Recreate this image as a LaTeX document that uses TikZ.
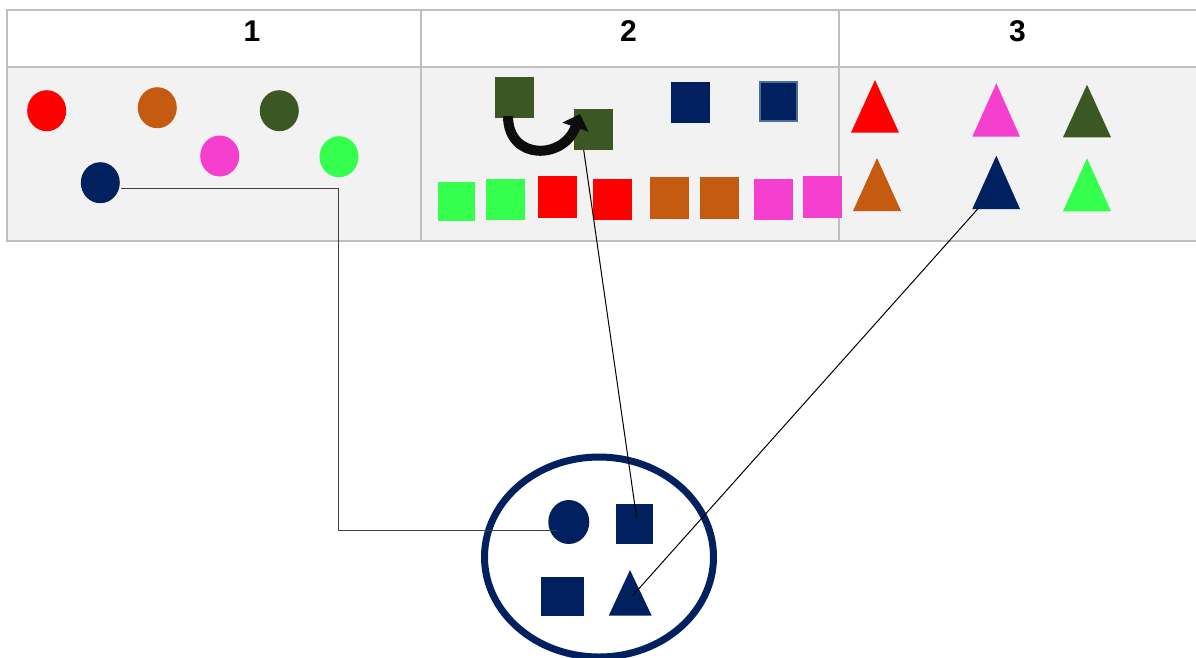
\documentclass[tikz,border=0pt]{standalone}
\usepackage{fontspec}
\setmainfont{Liberation Sans}
\usetikzlibrary{shapes.geometric,arrows.meta}
\definecolor{cred}{HTML}{FF0000}
\definecolor{corange}{HTML}{C55A11}
\definecolor{cdgreen}{HTML}{3B5724}
\definecolor{cpink}{HTML}{F43FCF}
\definecolor{cgreen}{HTML}{33FF4C}
\definecolor{cnavy}{HTML}{002060}
\definecolor{cbg}{HTML}{F2F2F2}
\definecolor{cgrid}{HTML}{BFBFBF}
\definecolor{cframe}{HTML}{4A6E98}
\definecolor{cconn}{HTML}{404040}
\begin{document}
\begin{tikzpicture}[x=1pt,y=-1pt,
  dot/.style={ellipse,inner sep=0pt,outer sep=0pt,minimum width=39pt,minimum height=41pt,fill=#1},
  sq/.style={rectangle,inner sep=0pt,outer sep=0pt,minimum width=39pt,minimum height=41pt,fill=#1},
  grid/.style={draw=cgrid,line width=2pt},
  hdr/.style={font=\fontsize{30}{30}\selectfont\bfseries,inner sep=0pt},
  connA/.style={draw=cconn,line width=1.3pt},
  connB/.style={draw=black,line width=1pt},
  bigarrow/.style={draw=black!95,line width=10pt,-{Triangle[length=14pt,width=27pt]}},
]
\useasboundingbox (0,0) rectangle (1196,657);
\clip (0,0) rectangle (1196,657);
% table
\fill[white] (7,10) rectangle (1205,67);
\fill[cbg] (7,67) rectangle (1205,241);
\draw[grid] (1205,10) -- (7,10) -- (7,241) -- (1205,241);
\draw[grid] (7,67) -- (1205,67);
\draw[grid] (421,10) -- (421,241);
\draw[grid] (839,10) -- (839,241);
\node[hdr] (h1) at (252,31) {1};
\node[hdr] (h2) at (628.5,31) {2};
\node[hdr] (h3) at (1017.5,31) {3};
% column 1: circles
\node[dot=cred] (c1) at (46.7,110.7) {};
\node[dot=corange] (c2) at (157.3,107.7) {};
\node[dot=cdgreen] (c3) at (279.3,110.7) {};
\node[dot=cpink] (c4) at (219.7,156) {};
\node[dot=cgreen] (c5) at (339,156.7) {};
\node[dot=cnavy] (c6) at (100.3,182.7) {};
% column 2: squares
\node[sq=cdgreen] (g1) at (514,97.5) {};
\node[sq=cdgreen] (g2) at (593.8,129.3) {};
\coordinate (a0) at (508,116);
\coordinate (a1) at (580,114);
\draw[bigarrow] (a0) .. controls (508,161) and (564,160) .. (a1);
\node[sq=cnavy] (n1) at (690.8,102.7) {};
\node[sq=cnavy,draw=cframe,line width=2pt,minimum width=37pt,minimum height=39pt] (n2) at (778.8,101.7) {};
\node[sq=cgreen,minimum width=37pt,minimum height=39pt] (b1) at (456.5,201.3) {};
\node[sq=cgreen] (b2) at (505.5,199) {};
\node[sq=cred,minimum height=42pt] (b3) at (557.8,197.2) {};
\node[sq=cred] (b4) at (612.8,199) {};
\node[sq=corange,minimum height=42pt] (b5) at (669.7,197.5) {};
\node[sq=corange,minimum height=42pt] (b6) at (719,197.5) {};
\node[sq=cpink] (b7) at (773.8,199.2) {};
\node[sq=cpink,minimum height=42pt] (b8) at (822.7,197.3) {};
% column 3: triangles
\fill[cred] (875,80) -- (899,132.7) -- (851,132.7) -- cycle;
\fill[cpink] (996.3,83.3) -- (1020,136.7) -- (972.3,136.7) -- cycle;
\fill[cdgreen] (1087,84.7) -- (1111,137.3) -- (1063,137.3) -- cycle;
\fill[corange] (877,158) -- (901,211) -- (853,211) -- cycle;
\fill[cnavy] (996.3,155.7) -- (1020,209) -- (972.3,209) -- cycle;
\fill[cgreen] (1087,158.3) -- (1111,211.3) -- (1063,211.3) -- cycle;
\coordinate (t5) at (977.7,209);
% bottom group
\node[ellipse,draw=cnavy,line width=7pt,inner sep=0pt,minimum width=229pt,minimum height=200pt] (ring) at (599,557) {};
\node[ellipse,fill=cnavy,inner sep=0pt,minimum width=41pt,minimum height=44pt] (ec) at (568.8,522) {};
\node[sq=cnavy,minimum width=37pt,minimum height=40pt] (es1) at (634.5,524) {};
\node[sq=cnavy,minimum width=43pt,minimum height=39pt] (es2) at (562.8,596.2) {};
\fill[cnavy] (630,570) -- (651.7,615.7) -- (608.7,615.7) -- cycle;
\coordinate (et) at (632.3,596);
% connectors
\coordinate (p1) at (121,188.7);
\coordinate (q1) at (556.7,530.7);
\draw[connA] (p1) -- (338.7,188.7) |- (q1);
\coordinate (p2) at (583.7,150);
\coordinate (q2) at (636.7,518.3);
\draw[connB] (p2) -- (q2);
\draw[connB] (t5) -- (et);
\end{tikzpicture}
\end{document}
